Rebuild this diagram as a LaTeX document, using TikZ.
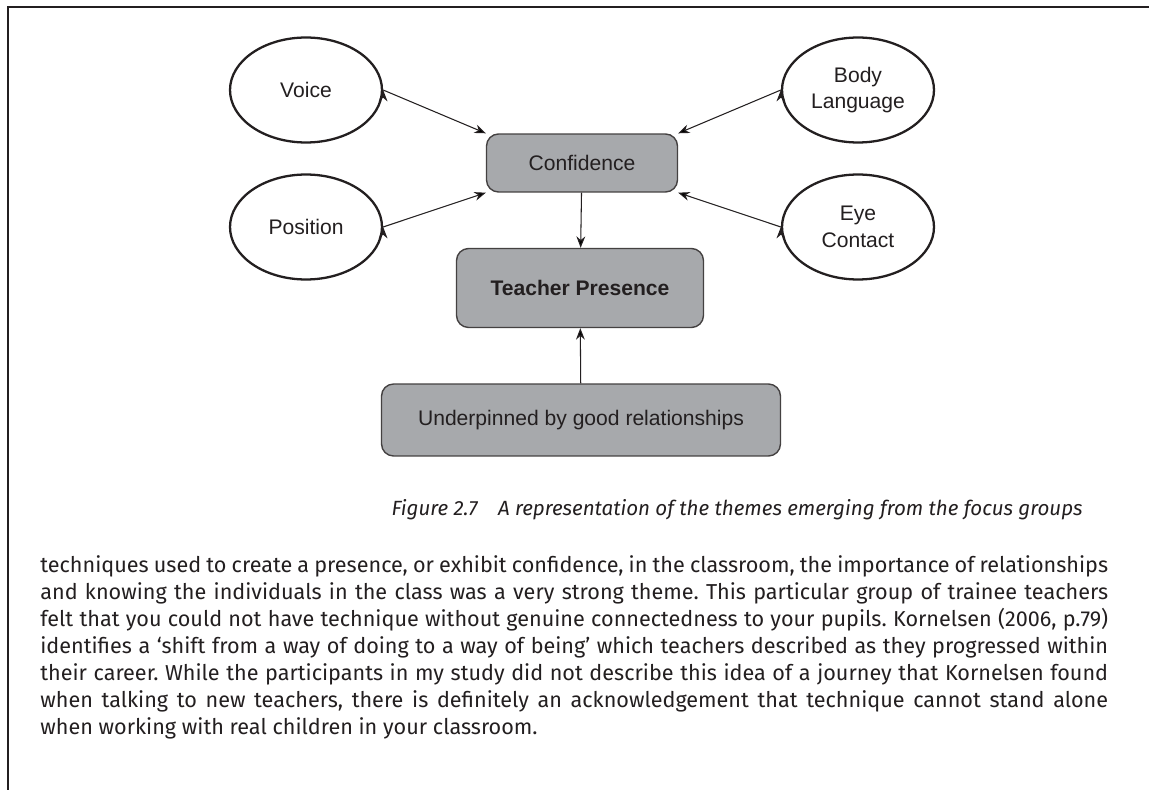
\documentclass[tikz,border=0pt]{standalone}
\usepackage{fontspec}
\usepackage{tikz}
\usetikzlibrary{shapes.geometric,arrows.meta}
\newfontfamily\bodyfont{Fira Sans}
\newfontfamily\labelfont{Liberation Sans}
\definecolor{inkGray}{HTML}{231F20}
\definecolor{boxGray}{HTML}{A7A9AC}

\begin{document}
\begin{tikzpicture}[x=0.02cm, y=-0.02cm, text=inkGray,
        every node/.style={font=\labelfont}]
        \tikzstyle{ovalNode} = [ellipse, draw=inkGray, line width=1.3pt, fill=white,
            minimum width=3.04cm, minimum height=2.1cm, inner sep=1pt, align=center,
            font=\labelfont\fontsize{12}{15.3}\selectfont]
        \tikzstyle{boxNode} = [rectangle, rounded corners=0.24cm, draw=inkGray!85,
            line width=0.8pt, fill=boxGray, align=center,
            font=\labelfont\fontsize{12}{15.3}\selectfont]
        \tikzstyle{arrowEdge} = [draw=inkGray, line width=0.6pt,
            -{Stealth[length=6.5pt, width=5pt]}]
        \useasboundingbox (0,0) rectangle (1149,790);
        \fill[white] (0,0) rectangle (1149,790);
        \draw[inkGray, line width=1.5pt] (8,790) -- (8,7) -- (1149,7);
        \node[ovalNode] (voice) at (306,90) {Voice};
        \node[ovalNode] (body) at (858,90) {Body\\Language};
        \node[ovalNode] (position) at (306,227) {Position};
        \node[ovalNode] (eye) at (858,227) {Eye\\Contact};
        \node[boxNode, minimum width=3.82cm, minimum height=1.16cm] (conf) at (582,163) {Confidence};
        \node[boxNode, minimum width=4.94cm, minimum height=1.58cm] (presence) at (580,288) {\bfseries Teacher Presence};
        \node[boxNode, minimum width=7.98cm, minimum height=1.44cm] (under) at (581,420) {Underpinned by good relationships};
        \path[arrowEdge] (voice.east) edge (conf.north west);
        \path[arrowEdge] (body.west) edge (conf.north east);
        \path[arrowEdge] (position.east) edge (conf.south west);
        \path[arrowEdge] (eye.west) edge (conf.south east);
        \path[arrowEdge] (conf) edge (presence);
        \path[arrowEdge] (under) edge (presence);
        \node[anchor=base east, inner sep=0, font=\bodyfont\itshape\fontsize{11.7}{14}\selectfont] (caption) at (1083,515)
            {Figure 2.7\enspace\enspace A representation of the themes emerging from the focus groups};
        \node[anchor=base west, inner sep=0, text width=21.36cm, align=justify,
            font=\bodyfont\frenchspacing\fontsize{12.3}{15.37}\selectfont] (para) at (40,572)
            {techniques used to create a presence, or exhibit confidence, in the classroom, the importance of relationships\linebreak
            and knowing the individuals in the class was a very strong theme. This particular group of trainee teachers\linebreak
            felt that you could not have technique without genuine connectedness to your pupils. Kornelsen (2006, p.79)\linebreak
            identifies a ‘shift from a way of doing to a way of being’ which teachers described as they progressed within\linebreak
            their career. While the participants in my study did not describe this idea of a journey that Kornelsen found\linebreak
            when talking to new teachers, there is definitely an acknowledgement that technique cannot stand alone\linebreak
            when working with real children in your classroom.};
    \end{tikzpicture}
\end{document}
